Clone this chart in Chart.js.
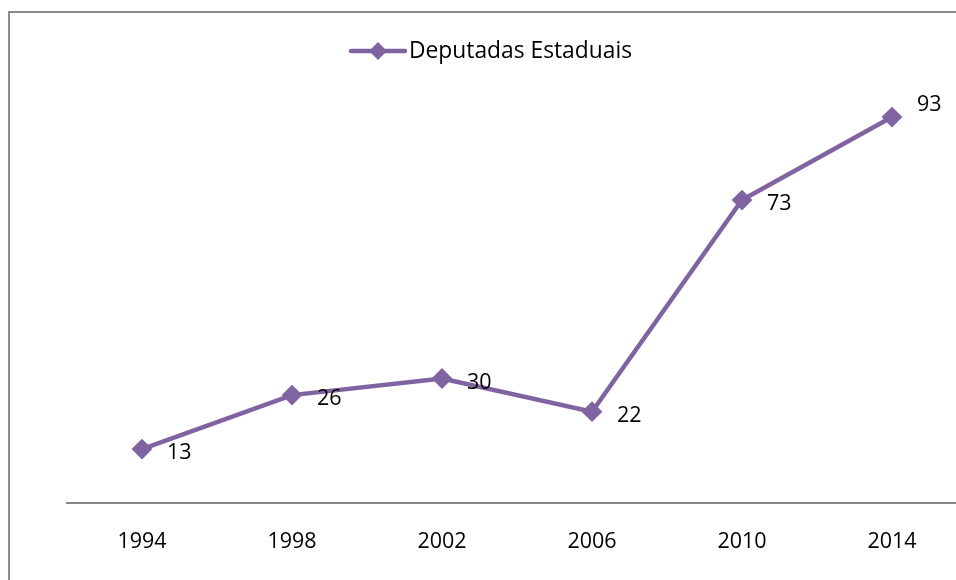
<!DOCTYPE html>
<html>
<head>
<meta charset="utf-8">
<script src="https://cdn.jsdelivr.net/npm/chart.js@4"></script>
<style>
  html, body { margin: 0; padding: 0; overflow: hidden; background: #fff; }
  #frame { position: absolute; left: 8px; top: 11px; width: 2000px; height: 2000px;
           border-left: 2px solid #8c8c8c; border-top: 2px solid #8c8c8c; }
  #wrap { position: absolute; left: 0; top: 0; width: 1000px; height: 620px; }
</style>
</head>
<body>
<div id="frame"></div>
<div id="wrap"><canvas id="myChart" width="1000" height="620"></canvas></div>
<script>
const years = ["1994", "1998", "2002", "2006", "2010", "2014"];
const deputadas = [13, 26, 30, 22, 73, 93];
const seriesName = "Deputadas Estaduais";

const purple = "#8064a2";
const font = "'Open Sans'";

// rótulos de dados à direita de cada ponto (último acima)
const pointLabels = {
  id: "pointLabels",
  afterDatasetsDraw(chart) {
    const ctx = chart.ctx;
    const meta = chart.getDatasetMeta(0);
    ctx.save();
    ctx.font = `21.5px ${font}`;
    ctx.fillStyle = "#000";
    ctx.textAlign = "left";
    ctx.textBaseline = "middle";
    meta.data.forEach((pt, i) => {
      const last = i === meta.data.length - 1;
      ctx.fillText(String(deputadas[i]), pt.x + 25, last ? pt.y - 12 : pt.y + 4);
    });
    ctx.restore();
  },
};

// legenda no estilo Excel: linha com losango
const lineLegend = {
  id: "lineLegend",
  afterDraw(chart) {
    const ctx = chart.ctx;
    const y = 51;
    ctx.save();
    ctx.strokeStyle = purple;
    ctx.lineWidth = 4.5;
    ctx.lineCap = "round";
    ctx.beginPath();
    ctx.moveTo(351, y);
    ctx.lineTo(405, y);
    ctx.stroke();
    ctx.fillStyle = purple;
    ctx.beginPath();
    ctx.moveTo(378, y - 9);
    ctx.lineTo(387, y);
    ctx.lineTo(378, y + 9);
    ctx.lineTo(369, y);
    ctx.closePath();
    ctx.fill();
    ctx.fillStyle = "#000";
    ctx.font = `22.8px ${font}`;
    ctx.textBaseline = "middle";
    ctx.fillText(seriesName, 409, y + 1);
    ctx.restore();
  },
};

const ctx = document.getElementById("myChart").getContext("2d");
const myChart = new Chart(ctx, {
  type: "line",
  data: {
    labels: years,
    datasets: [
      {
        label: seriesName,
        data: deputadas,
        borderColor: purple,
        backgroundColor: purple,
        borderWidth: 4.5,
        pointStyle: "rectRot",
        pointRadius: 9,
        pointBorderWidth: 2,
        pointBorderColor: purple,
        pointBackgroundColor: purple,
        tension: 0,
      },
    ],
  },
  options: {
    responsive: false,
    animation: false,
    layout: { padding: { left: 67, right: 33, top: 88, bottom: 57 } },
    plugins: { legend: { display: false }, tooltip: { enabled: false } },
    scales: {
      y: { display: false, min: 0, max: 100 },
      x: {
        offset: true,
        grid: { display: false, drawTicks: false },
        border: { display: true, color: "#868686", width: 2 },
        ticks: { color: "#000", font: { family: font, size: 21.5 }, padding: 26 },
        afterFit(scale) { scale.height = 60; },
      },
    },
  },
  plugins: [pointLabels, lineLegend],
});
</script>
</body>
</html>
